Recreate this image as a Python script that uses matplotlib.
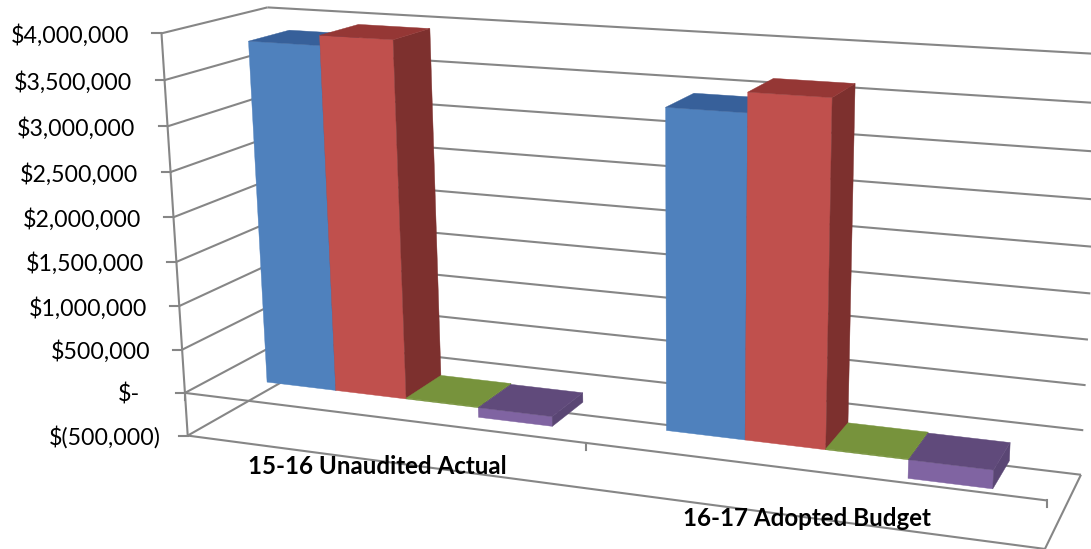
import matplotlib
matplotlib.use('Agg')
import matplotlib.pyplot as plt
import numpy as np

categories = ['15-16 Unaudited Actual', '16-17 Adopted Budget']
blue_values = [3860000, 3450000]
red_values = [3970000, 3660000]
green_values = [10000, 10000]
purple_values = [-110000, -200000]

tick_values = [4000000, 3500000, 3000000, 2500000, 2000000, 1500000, 1000000, 500000, 0, -500000]
tick_labels = ['$4,000,000', '$3,500,000', '$3,000,000', '$2,500,000', '$2,000,000',
               '$1,500,000', '$1,000,000', '$500,000', '$-', '$(500,000)']

# (position along categories, depth, value in millions) -> pixel
ANCHORS = [
    ((0, 0, 4.0), (163, 33)),
    ((0, 0, -0.5), (187, 436)),
    ((0, 0, 0.0), (185, 393)),
    ((0, 1, 4.0), (266, 7)),
    ((0, 1, -0.5), (288, 379)),
    ((2, 1, 4.0), (1103, 55)),
    ((2, 1, -0.5), (1081, 475)),
    ((2, 1, 0.0), (1083, 430)),
    ((2, 0, -0.5), (1046, 548)),
    ((2, 0, 0.0), (1047, 500)),
    ((1, 0, 0.0), (584, 444)),
]

GRID = '#868686'
BAR_DEPTH = (0.30, 0.70)
GAP = 1.5 / 5.5
BAR_W = 1 / 5.5


def fit_camera(anchors):
    rows, rhs = [], []
    for (u, d, v), (px, py) in anchors:
        rows.append([u, d, v, 1, 0, 0, 0, 0, -px * u, -px * d, -px * v])
        rows.append([0, 0, 0, 0, u, d, v, 1, -py * u, -py * d, -py * v])
        rhs += [px, py]
    sol = np.linalg.lstsq(np.array(rows, float), np.array(rhs, float), rcond=None)[0]
    return np.append(sol, 1.0).reshape(3, 4)


CAM = fit_camera(ANCHORS)


def project(u, d, value):
    p = CAM @ np.array([u, d, value / 1e6, 1.0])
    return p[0] / p[2], p[1] / p[2]


def face(ax, corners, color, zorder):
    pts = [project(*c) for c in corners]
    ax.fill([p[0] for p in pts], [p[1] for p in pts], color=color, lw=0.3, zorder=zorder)


def draw_bar(ax, u0, u1, value, front, top, side, zorder):
    d0, d1 = BAR_DEPTH
    hi, lo = max(value, 0), min(value, 0)
    face(ax, [(u0, d0, hi), (u1, d0, hi), (u1, d0, lo), (u0, d0, lo)], front, zorder)
    face(ax, [(u1, d0, hi), (u1, d1, hi), (u1, d1, lo), (u1, d0, lo)], side, zorder)
    face(ax, [(u0, d0, hi), (u1, d0, hi), (u1, d1, hi), (u0, d1, hi)], top, zorder)


def line3d(ax, a, b, lw=1.5):
    pa, pb = project(*a), project(*b)
    ax.plot([pa[0], pb[0]], [pa[1], pb[1]], color=GRID, lw=lw, zorder=1, solid_capstyle='butt')


fig = plt.figure(figsize=(10.91, 5.49), dpi=100)
ax = fig.add_axes([0, 0, 1, 1])
ax.set_xlim(0, 1091)
ax.set_ylim(549, 0)
ax.axis('off')

# walls and floor
for val in tick_values:
    line3d(ax, (0, 0, val), (0, 1, val))
    line3d(ax, (0, 1, val), (2, 1, val))
    x, y = project(0, 0, val)
    ax.plot([x - 9, x], [y, y], color=GRID, lw=1.5, zorder=1)
line3d(ax, (0, 0, 4000000), (0, 0, -500000))
line3d(ax, (0, 0, -500000), (2, 0, -500000))
line3d(ax, (2, 0, -500000), (2, 1, -500000))
line3d(ax, (0, 0, 0), (2, 0, 0))
for u in range(3):
    x, y = project(u, 0, 0)
    ax.plot([x, x], [y, y + 7], color=GRID, lw=1.5, zorder=1)

series = [
    (blue_values, '#4f81bd', '#37609a', '#37609a'),
    (red_values, '#c0504d', '#953735', '#7d302e'),
    (green_values, '#77933c', '#77933c', '#5f7530'),
    (purple_values, '#8064a2', '#604a7b', '#5a4674'),
]
for c in range(len(categories)):
    for i, (vals, front, top, side) in enumerate(series):
        u0 = c + GAP / 2 + i * BAR_W
        draw_bar(ax, u0, u0 + BAR_W, vals[c], front, top, side, 3 + c + i * 0.1)

# accounting format pads zero and negative labels differently
for val, lab in zip(tick_values, tick_labels):
    x, y = project(0, 0, val)
    pad = 32 if val > 0 else (45 if val == 0 else 27)
    ax.text(x - pad, y + 2, lab, ha='right', va='center', fontsize=16.7,
            family='Lato', color='black', zorder=10)

ax.text(377, 467, categories[0], ha='center', va='center', fontsize=17.4, family='Lato',
        fontweight='bold', zorder=10)
ax.text(807, 518, categories[1], ha='center', va='center', fontsize=17.4, family='Lato',
        fontweight='bold', zorder=10)

fig.savefig('out.png', dpi=100)
